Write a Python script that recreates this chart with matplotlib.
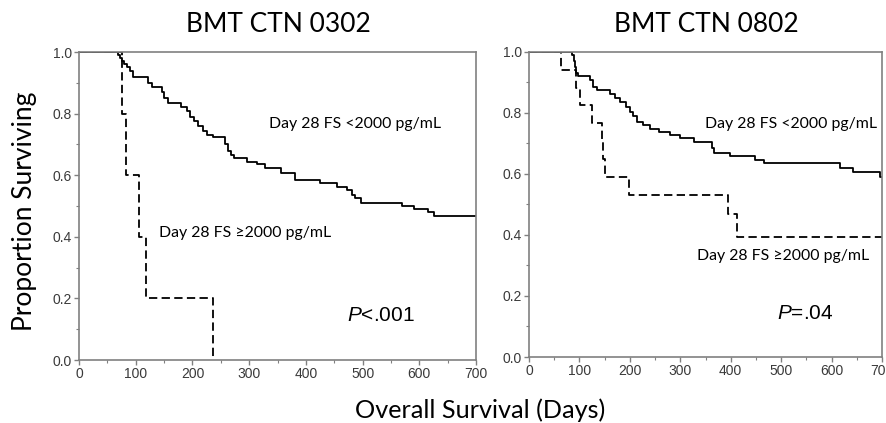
import matplotlib
matplotlib.use("Agg")
import matplotlib.pyplot as plt
from matplotlib.ticker import MultipleLocator, FormatStrFormatter

# BMT CTN 0302
low_0302_days = [0, 68, 72, 75, 80, 84, 89, 96, 122, 128, 146, 150, 157, 180, 190, 196,
                 202, 210, 218, 226, 236, 258, 263, 268, 274, 296, 313, 328, 356, 381,
                 425, 454, 472, 482, 486, 498, 569, 590, 616, 625]
low_0302_surv = [1.0, 0.99, 0.98, 0.97, 0.96, 0.95, 0.94, 0.918, 0.90, 0.886, 0.87, 0.85,
                 0.835, 0.82, 0.81, 0.79, 0.775, 0.76, 0.745, 0.73, 0.725, 0.70, 0.68,
                 0.665, 0.655, 0.644, 0.636, 0.625, 0.606, 0.584, 0.576, 0.563, 0.552,
                 0.535, 0.525, 0.511, 0.50, 0.49, 0.479, 0.468]
high_0302_days = [0, 75, 83, 105, 118, 237]
high_0302_surv = [1.0, 0.8, 0.6, 0.4, 0.2, 0.0]

# BMT CTN 0802
low_0802_days = [0, 86, 89, 91, 94, 97, 120, 126, 135, 161, 170, 180, 192, 200, 207, 214,
                 226, 240, 258, 280, 300, 328, 362, 366, 399, 448, 465, 617, 643, 696]
low_0802_surv = [1.0, 0.99, 0.97, 0.95, 0.93, 0.921, 0.907, 0.885, 0.874, 0.863, 0.849,
                 0.836, 0.82, 0.804, 0.788, 0.771, 0.76, 0.747, 0.736, 0.728, 0.716,
                 0.705, 0.683, 0.669, 0.658, 0.645, 0.634, 0.62, 0.607, 0.59]
high_0802_days = [0, 63, 93, 101, 124, 144, 147, 151, 198, 395, 412]
high_0802_surv = [1.0, 0.941, 0.882, 0.824, 0.765, 0.706, 0.647, 0.588, 0.529, 0.47, 0.392]

MAX_DAY = 700
TEXT_FONT = ["Lato", "DejaVu Sans"]
GRAY = "#808080"

plt.rcParams["mathtext.fontset"] = "custom"
plt.rcParams["mathtext.it"] = "Liberation Sans:italic"
plt.rcParams["mathtext.rm"] = "Liberation Sans"

fig = plt.figure(figsize=(8.87, 4.23), dpi=100)
ax1 = fig.add_axes([0.0891, 0.1489, 0.4476, 0.7281])
ax2 = fig.add_axes([0.5964, 0.1560, 0.3980, 0.7218])


def km(ax, days, surv, dashed=False, extend=True):
    d = list(days)
    s = list(surv)
    if extend:
        d.append(MAX_DAY)
        s.append(s[-1])
    line, = ax.step(d, s, where="post", color="black", linewidth=1.3)
    if dashed:
        line.set_dashes((4.6, 2.4))


def style(ax):
    ax.set_xlim(0, MAX_DAY)
    ax.set_ylim(0, 1.0)
    ax.xaxis.set_major_locator(MultipleLocator(100))
    ax.xaxis.set_minor_locator(MultipleLocator(50))
    ax.yaxis.set_major_locator(MultipleLocator(0.2))
    ax.yaxis.set_minor_locator(MultipleLocator(0.1))
    ax.yaxis.set_major_formatter(FormatStrFormatter("%.1f"))
    for sp in ax.spines.values():
        sp.set_color(GRAY)
        sp.set_linewidth(1.2)
    ax.tick_params(which="major", direction="out", length=3.5, width=1, color=GRAY,
                   labelsize=10, labelcolor="#3a3a3a", pad=1.5)
    ax.tick_params(which="minor", direction="out", length=2, width=0.8, color=GRAY)
    for lab in ax.get_xticklabels() + ax.get_yticklabels():
        lab.set_family("Liberation Sans")


km(ax1, low_0302_days, low_0302_surv)
km(ax1, high_0302_days, high_0302_surv, dashed=True, extend=False)
km(ax2, low_0802_days, low_0802_surv)
km(ax2, high_0802_days, high_0802_surv, dashed=True)
style(ax1)
style(ax2)

ax1.text(335, 0.766, "Day 28 FS <2000 pg/mL", family=TEXT_FONT, fontsize=11.4,
         ha="left", va="center")
ax1.text(141, 0.412, "Day 28 FS \u22652000 pg/mL", family=TEXT_FONT, fontsize=11.4,
         ha="left", va="center")
ax1.text(472, 0.146, r"$\mathit{P}$<.001", family="Liberation Sans", fontsize=15,
         ha="left", va="center")

ax2.text(349, 0.763, "Day 28 FS <2000 pg/mL", family=TEXT_FONT, fontsize=11.4,
         ha="left", va="center")
ax2.text(333, 0.331, "Day 28 FS \u22652000 pg/mL", family=TEXT_FONT, fontsize=11.4,
         ha="left", va="center")
ax2.text(492, 0.141, r"$\mathit{P}$=.04", family="Liberation Sans", fontsize=15,
         ha="left", va="center")

fig.text(278 / 887, 1 - 24 / 423, "BMT CTN 0302", family=TEXT_FONT, fontsize=19,
         ha="center", va="center")
fig.text(706 / 887, 1 - 24 / 423, "BMT CTN 0802", family=TEXT_FONT, fontsize=19,
         ha="center", va="center")
fig.text(25 / 887, 1 - 211 / 423, "Proportion Surviving", family=TEXT_FONT, fontsize=19,
         rotation=90, ha="center", va="center")
fig.text(480 / 887, 1 - 410 / 423, "Overall Survival (Days)", family=TEXT_FONT,
         fontsize=18.2, ha="center", va="center")

fig.savefig("out.png", dpi=100)
